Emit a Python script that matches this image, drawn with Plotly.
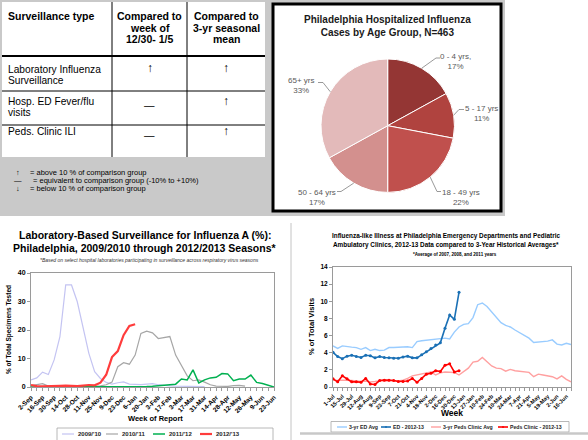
import math
import pandas as pd
import plotly.graph_objects as go

W, H = 588, 440
FONT = "Arial, Liberation Sans, sans-serif"

# ---- table (top left) ----
table_header = [["Surveillance type"],
                ["Compared to", "week of", "12/30- 1/5"],
                ["Compared to", "3-yr seasonal", "mean"]]
surveillance_types = [["Laboratory Influenza", "Surveillance"],
                      ["Hosp. ED Fever/flu", "visits"],
                      ["Peds. Clinic ILI"]]
vs_last_week = ["↑", "—", "—"]
vs_3yr_mean = ["↑", "↑", "↑"]
key_symbols = ["↑", "—", "↓"]
key_text = ["= above 10 % of comparison group",
            "= equivalent to comparison group (-10% to +10%)",
            "= below 10 % of comparison group"]

# ---- pie ----
pie_title = "Philadelphia Hospitalized Influenza<br>Cases by Age Group, N=463"
age_groups = ["0 - 4 yrs,", "5 - 17 yrs", "18 - 49 yrs", "50 - 64 yrs", "65+ yrs"]
age_pct = [17, 11, 22, 17, 33]
pie_colors = ["#943634", "#b0433f", "#c0504d", "#d3908e", "#e3baba"]

# ---- lab surveillance (bottom left) ----
lab_weeks = [f"{d.day}-{d:%b}" for d in pd.date_range("2012-09-02", "2013-06-23", freq="7D")]
lab_names = ["2009/'10", "2010/'11", "2011/'12", "2012/'13"]
lab_0910 = [2.5, 3.2, 5.2, 4.4, 9.5, 17.7, 35.8, 35.8, 29.9, 20.6,
            11.8, 5.4, 3.0, 1.6, 1.0, 1.5, 1.8, 1.0, 0.8, 0.8,
            1.0, 1.2, 0.8, 0.5, 0.4, 0.3, 0.3, 0.2, 0.2, 0.2,
            0.1] + [None] * 12
lab_1011 = [0.5, 0.8, 1.2, 0.3, 0.1, 0.1, 0.1, 0.1, 0.1, 0.1,
            0.1, 0.2, 0.4, 0.8, 1.7, 7.1, 8.5, 8.0, 11.2, 18.8,
            19.6, 19.0, 17.0, 17.4, 17.7, 11.2, 7.7, 3.9, 2.2, 2.5,
            1.7, 0.8, 0.3, 0.3, 0.2, 0.5, 0.6, 0.3] + [None] * 5
lab_1112 = [0.0, 0.0, 0.1, 0.1, 0.0, 0.0, 0.1, 0.1, 0.0, 0.0,
            0.0, 0.0, 0.1, 0.1, 0.1, 0.1, 0.2, 0.1, 0.1, 0.2,
            0.2, 0.3, 0.5, 0.6, 1.0, 1.0, 2.8, 2.5, 6.0, 1.4,
            2.5, 3.2, 3.4, 4.7, 4.6, 2.2, 2.8, 2.8, 4.2, 1.6,
            1.2, 0.6, 0.0]
lab_1213 = [0.7, 0.3, 0.2, 0.2, 0.3, 0.4, 0.5, 0.3, 0.3, 0.5,
            0.7, 0.6, 1.5, 4.3, 10.5, 12.6, 18.2, 21.4, 22.0] + [None] * 24
lab_colors = ["#c4c4f2", "#a6a6a6", "#00b050", "#ff3c3c"]
lab_widths = [1.2, 1.2, 1.5, 2.2]

# ---- ILI (bottom right) ----
ili_weeks = [f"{d.day}-{d:%b}" for d in pd.date_range("2012-07-01", "2013-06-23", freq="7D")]
ili_names = ["3-yr ED Avg", "ED - 2012-13", "3-yr Peds Clinic Avg", "Peds Clinic - 2012-13"]
ed_3yr = [4.8, 4.5, 4.8, 4.7, 4.65, 4.6, 4.4, 4.6, 4.25, 4.4,
          4.25, 4.3, 4.6, 4.6, 4.65, 4.7, 4.7, 4.6, 5.3, 5.4,
          5.45, 5.5, 5.55, 5.6, 5.7, 5.6, 6.4, 7.0, 7.3, 7.4,
          8.1, 9.6, 9.8, 9.4, 8.8, 8.1, 7.5, 7.2, 7.0, 6.65,
          6.3, 6.0, 5.7, 5.2, 5.25, 5.25, 5.35, 5.5, 5.0, 4.9,
          5.1, 4.95]
ed_1213 = [4.05, 3.55, 3.3, 3.6, 3.7, 3.55, 3.45, 3.7, 3.65, 3.4,
           3.55, 3.45, 3.4, 3.35, 3.35, 3.5, 3.6, 3.4, 3.4, 3.75,
           4.1, 4.5, 4.9, 5.15, 6.85, 8.4, 7.9, 11.05] + [None] * 24
peds_3yr = [0.8, 0.75, 0.8, 0.8, 0.75, 0.7, 0.65, 0.7, 0.6, 0.65,
            0.75, 0.8, 0.8, 0.75, 0.7, 0.8, 1.0, 1.3, 1.4, 1.5,
            1.6, 1.75, 1.4, 1.65, 1.75, 1.75, 1.7, 1.4, 1.75, 2.2,
            2.9, 3.0, 3.45, 2.95, 2.45, 2.2, 2.15, 1.85, 2.05, 1.9,
            1.85, 1.8, 1.7, 1.2, 1.5, 1.4, 1.3, 1.2, 0.95, 1.3,
            0.9, 0.6]
peds_1213 = [0.95, 0.6, 1.3, 0.95, 0.6, 0.6, 0.55, 1.0, 0.35, 0.3,
             0.75, 0.8, 0.8, 0.75, 0.65, 0.65, 0.7, 1.0, 0.55, 1.0,
             1.5, 1.6, 1.9, 1.8, 2.55, 2.7, 1.75, 1.9] + [None] * 24
ili_colors = ["#99ccff", "#1a70b5", "#ffa0a0", "#ff0000"]
ili_widths = [1.4, 1.6, 1.4, 1.6]
ili_markers = [False, True, False, True]


def px(x):
    return x / W


def py(y):
    return 1 - y / H


ann = []
shp = []


def text(x, y, s, size, bold=False, color="black", xanchor="center", italic=False, angle=0):
    ann.append(dict(x=px(x), y=py(y), xref="paper", yref="paper", text=s, showarrow=False,
                    xanchor=xanchor, yanchor="middle", textangle=angle, borderpad=0,
                    font=dict(family=FONT, size=size, color=color,
                              weight="bold" if bold else "normal",
                              style="italic" if italic else "normal")))


def line(x0, y0, x1, y1, color="black", width=1):
    shp.append(dict(type="line", xref="paper", yref="paper", x0=px(x0), y0=py(y0),
                    x1=px(x1), y1=py(y1), line=dict(color=color, width=width)))


def rect(x0, y0, x1, y1, fill, color=None, width=0):
    shp.append(dict(type="rect", xref="paper", yref="paper", x0=px(x0), y0=py(y0),
                    x1=px(x1), y1=py(y1), fillcolor=fill, layer="below",
                    line=dict(color=color or fill, width=width)))


# backgrounds
rect(0, 0, 505, 216, "#c9c9c9")
rect(2, 2, 265, 157, "white")
rect(273, 4, 501, 211, "white", "black", 3)
line(291, 223, 291, 440, "#c4c4c4", 1)
line(300, 433.5, 588, 433.5, "#c8c8c8", 2.5)

# table grid
line(112, 2, 112, 157)
line(187, 2, 187, 157)
line(2, 56, 265, 56, width=2)
line(2, 91, 265, 91)
line(2, 125, 265, 125)

text(7, 16, table_header[0][0], 10.5, bold=True, xanchor="left")
for k, s in enumerate(table_header[1]):
    text(149.5, 16 + 11.5 * k, s, 10.5, bold=True)
for k, s in enumerate(table_header[2]):
    text(226, 16 + 11.5 * k, s, 10.5, bold=True)

row_first = [69, 101.5, 131.5]
for r, lines in enumerate(surveillance_types):
    for k, s in enumerate(lines):
        text(7, row_first[r] + 11 * k, s, 10.2, xanchor="left")
    for c, sym in ((149.5, vs_last_week[r]), (226, vs_3yr_mean[r])):
        if sym == "—":
            text(c, row_first[r] + 3, sym, 10.5)
        else:
            text(c, row_first[r] - 1, sym, 12)

for k, (sym, s) in enumerate(zip(key_symbols, key_text)):
    yk = 172.5 + 8 * k
    text(18, yk, sym, 7.5)
    text(29 if sym != "—" else 32, yk, s, 7.5, xanchor="left")

# pie
cx, cy, r = 387.7, 125.7, 66.7
text(387, 25.5, pie_title, 10, bold=True, color="#1a1a1a")
label_pos = [(455, 62), (481, 114), (461, 197), (317, 197), (301, 86)]
label_elbow = [(436, 58), (459, 109.5), (437, 191.5), (341, 191.5), (323, 82.5)]
label_end = [(440, 58), (464, 109.5), (441, 191.5), (337, 191.5), (318, 82.5)]
cum = 0
for g, v, lp, el, en in zip(age_groups, age_pct, label_pos, label_elbow, label_end):
    mid = (cum + v / 2) / sum(age_pct) * 2 * math.pi
    cum += v
    sx, sy = cx + r * math.sin(mid), cy - r * math.cos(mid)
    shp.append(dict(type="path", xref="paper", yref="paper",
                    path=f"M {px(sx)},{py(sy)} L {px(el[0])},{py(el[1])} L {px(en[0])},{py(en[1])}",
                    line=dict(color="#7f7f7f", width=0.8)))
    text(lp[0], lp[1], f"{g}<br>{v}%", 8, color="#595959")

# bottom-left titles
text(145, 235, "Laboratory-Based Surveillance for Influenza A (%):", 10.5, bold=True)
text(145, 247.5, "Philadelphia, 2009/2010 through 2012/2013 Seasons*", 10.5, bold=True)
text(149, 259.5, "*Based on select hospital laboratories participating in surveillance across respiratory virus seasons",
     5, italic=True, color="#333333")
text(9, 330, "% of Total Specimens Tested", 6.5, bold=True, angle=-90)
text(155, 418.5, "Week of Report", 7.5, bold=True)

# bottom-right titles
text(446, 236, "Influenza-like Illness at Philadelphia Emergency Departments and Pediatric", 6.4, bold=True)
text(446, 244.5, "Ambulatory Clinics, 2012-13 Data compared to 3-Year Historical Averages*", 6.4, bold=True)
text(455, 254.5, "*Average of 2007, 2008, and 2011 years", 4.5, bold=True)
text(311, 327, "% of Total Visits", 7.5, bold=True, angle=-90)
text(452, 413, "Week", 8.5, bold=True)

fig = go.Figure()
fig.add_trace(go.Pie(values=age_pct, labels=age_groups, sort=False, direction="clockwise",
                     rotation=0, textinfo="none", hoverinfo="label+percent", showlegend=False,
                     marker=dict(colors=pie_colors, line=dict(color="white", width=1)),
                     domain=dict(x=[px(cx - r), px(cx + r)], y=[py(cy + r), py(cy - r)])))

lab_series = [lab_0910, lab_1011, lab_1112, lab_1213]
for name, vals, col, wd in zip(lab_names, lab_series, lab_colors, lab_widths):
    fig.add_trace(go.Scatter(x=lab_weeks, y=vals, name=name, mode="lines",
                             line=dict(color=col, width=wd), showlegend=False,
                             xaxis="x", yaxis="y"))

ili_series = [ed_3yr, ed_1213, peds_3yr, peds_1213]
for name, vals, col, wd, mk in zip(ili_names, ili_series, ili_colors, ili_widths, ili_markers):
    fig.add_trace(go.Scatter(x=ili_weeks, y=vals, name=name,
                             mode="lines+markers" if mk else "lines",
                             line=dict(color=col, width=wd),
                             marker=dict(size=3, color=col), showlegend=False,
                             xaxis="x2", yaxis="y2"))

# manual legends
rect(57, 428, 273, 441, "white", "#a6a6a6", 0.8)
for x0, name, col, wd in zip([62, 106, 153, 200], lab_names, lab_colors, lab_widths):
    line(x0, 434, x0 + 12, 434, col, wd)
    text(x0 + 15, 434, name, 6, bold=True, xanchor="left", color="#262626")

rect(331, 421.5, 569, 432, "white", "#a6a6a6", 0.8)
for x0, name, col, wd, mk in zip([337, 381, 431, 498], ili_names, ili_colors, ili_widths, ili_markers):
    line(x0, 427, x0 + 10, 427, col, wd)
    if mk:
        shp.append(dict(type="circle", xref="paper", yref="paper", x0=px(x0 + 4), x1=px(x0 + 6),
                        y0=py(428), y1=py(426), fillcolor=col, line=dict(color=col, width=0)))
    text(x0 + 11, 427, name, 5.2, bold=True, xanchor="left", color="#262626")

axis_common = dict(showline=True, mirror=True, linecolor="#9a9a9a", linewidth=1,
                   showgrid=False, zeroline=False, ticks="outside", ticklen=3,
                   tickcolor="#9a9a9a", automargin=False)

fig.update_layout(
    width=W, height=H, autosize=False, template="none",
    margin=dict(l=0, r=0, t=0, b=0),
    paper_bgcolor="white", plot_bgcolor="white",
    font=dict(family=FONT),
    xaxis=dict(domain=[px(31), px(274)], anchor="y", type="category",
               categoryorder="array", categoryarray=lab_weeks, range=[0, len(lab_weeks) - 1],
               tickmode="array", tickvals=lab_weeks,
               ticktext=[w if i % 2 == 0 else "" for i, w in enumerate(lab_weeks)],
               tickangle=-45, tickfont=dict(family=FONT, size=6.5, weight="bold", color="black"),
               **axis_common),
    yaxis=dict(domain=[py(387), py(273)], anchor="x", range=[0, 40], dtick=10,
               tickfont=dict(family=FONT, size=7, weight="bold", color="black"), **axis_common),
    xaxis2=dict(domain=[px(333), px(571)], anchor="y2", type="category",
                categoryorder="array", categoryarray=ili_weeks, range=[0, len(ili_weeks) - 1],
                tickmode="array", tickvals=ili_weeks,
                ticktext=[w if i % 2 == 0 else "" for i, w in enumerate(ili_weeks)],
                tickangle=-45, tickfont=dict(family=FONT, size=5.6, weight="bold", color="black"),
                **axis_common),
    yaxis2=dict(domain=[py(387), py(267)], anchor="x2", range=[0, 14], dtick=2,
                tickfont=dict(family=FONT, size=6.5, weight="bold", color="black"), **axis_common),
    annotations=ann,
    shapes=shp,
)

# drop the default page margin so the figure sits at the window's top-left corner
fig.write_html("out.html", config={"displayModeBar": False},
               post_script="document.body.style.margin='0';document.body.style.overflow='hidden';")
